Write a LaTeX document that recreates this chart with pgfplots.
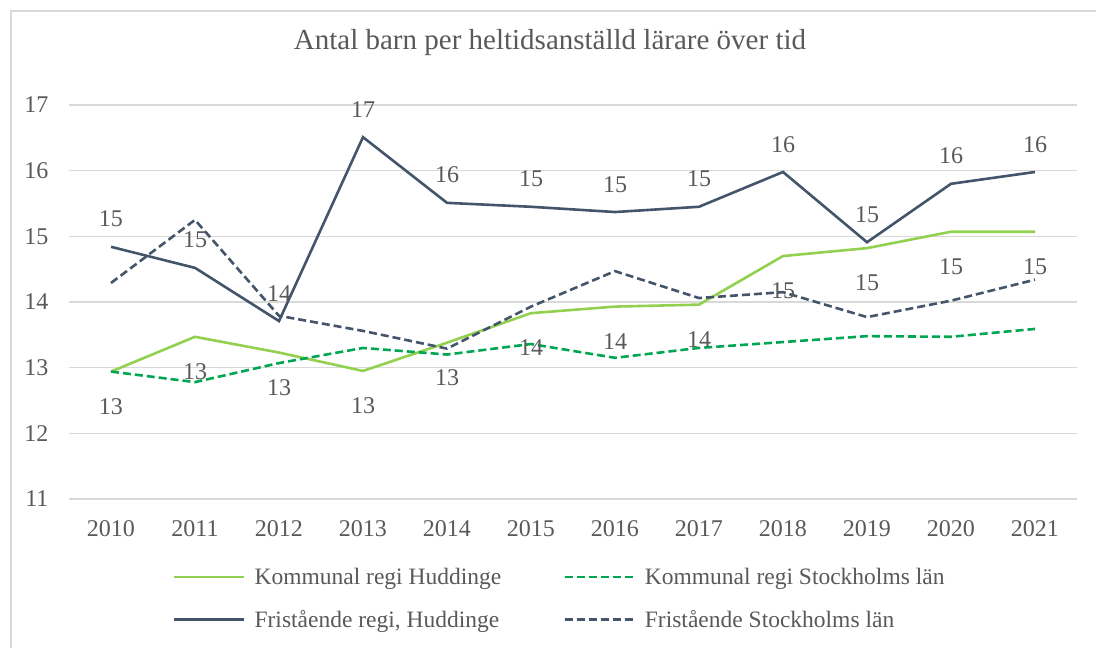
\documentclass[border=0pt]{standalone}
\usepackage{pgfplots}
\pgfplotsset{compat=1.18}
\usepackage{fontspec}
\setmainfont{Liberation Serif}
\definecolor{txt}{HTML}{595959}
\definecolor{gridc}{HTML}{D9D9D9}
\definecolor{lgreen}{HTML}{92D050}
\definecolor{dgreen}{HTML}{00A651}
\definecolor{navy}{HTML}{44546A}

\begin{document}
\begin{tikzpicture}[x=1pt,y=1pt]
\path[use as bounding box] (0,0) rectangle (1096,648);
\draw[gridc, line width=1.3pt] (11,-20) -- (11,637) -- (1120,637);
\node[text=txt, font=\fontsize{29}{34}\selectfont] at (550,605) {Antal barn per heltidsanställd lärare över tid};
\begin{axis}[
  at={(69pt,149pt)}, anchor=south west,
  scale only axis, width=1008pt, height=394pt,
  xmin=2009.5, xmax=2021.5, ymin=11, ymax=17,
  xtick={2010,...,2021}, ytick={11,...,17},
  axis line style={draw=none},
  tick style={draw=none},
  major tick length=0pt,
  ymajorgrids, grid style={gridc, line width=1.3pt},
  clip=false,
  /pgf/number format/assume math mode=true,
  /pgf/number format/1000 sep={},
  tick label style={font=\fontsize{24}{28}\selectfont, text=txt},
  yticklabel style={xshift=-17pt},
  xticklabel style={yshift=-18pt},
  legend columns=2,
  legend style={at={(0.1,-0.165)}, anchor=north west, draw=none, fill=none,
    font=\fontsize{23.5}{28}\selectfont, text=txt,
    /tikz/every even column/.append style={column sep=60pt},
    row sep=20pt},
  legend cell align=left,
  legend image code/.code={\draw[#1] (0pt,0pt) -- (70pt,0pt); \path (77pt,0pt);},
  every node near coord/.append style={font=\fontsize{24}{28}\selectfont, text=txt},
  nodes near coords={\pgfmathprintnumber[fixed,precision=0,assume math mode=true]{\pgfplotspointmeta}},
]
% Kommunal regi Huddinge
\addplot[lgreen, line width=2.6pt, no markers,
  every node near coord/.append style={anchor=north, yshift=-22pt}]
  coordinates {(2010,12.94) (2011,13.47) (2012,13.23) (2013,12.95) (2014,13.38) (2015,13.83)
   (2016,13.93) (2017,13.96) (2018,14.70) (2019,14.82) (2020,15.07) (2021,15.07)};
\addlegendentry{Kommunal regi Huddinge}
% Kommunal regi Stockholms län
\addplot[dgreen, line width=2.6pt, dash pattern=on 8pt off 4pt, no markers, nodes near coords={}]
  coordinates {(2010,12.94) (2011,12.78) (2012,13.07) (2013,13.30) (2014,13.20) (2015,13.36)
   (2016,13.15) (2017,13.30) (2018,13.39) (2019,13.48) (2020,13.47) (2021,13.59)};
\addlegendentry{Kommunal regi Stockholms län}
% Fristående regi, Huddinge
\addplot[navy, line width=2.6pt, no markers,
  every node near coord/.append style={anchor=south, yshift=15pt}]
  coordinates {(2010,14.84) (2011,14.52) (2012,13.71) (2013,16.51) (2014,15.51) (2015,15.45)
   (2016,15.37) (2017,15.45) (2018,15.98) (2019,14.91) (2020,15.80) (2021,15.98)};
\addlegendentry{Fristående regi, Huddinge}
% Fristående Stockholms län
\addplot[navy, line width=2.6pt, dash pattern=on 8pt off 4pt, no markers, nodes near coords={}]
  coordinates {(2010,14.29) (2011,15.25) (2012,13.79) (2013,13.56) (2014,13.29) (2015,13.93)
   (2016,14.47) (2017,14.06) (2018,14.15) (2019,13.77) (2020,14.02) (2021,14.34)};
\addlegendentry{Fristående Stockholms län}
\end{axis}
\end{tikzpicture}
\end{document}
